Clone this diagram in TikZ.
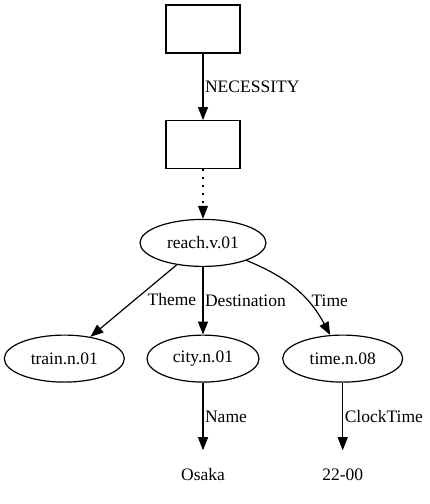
\documentclass[tikz,border=0pt]{standalone}
\usepackage{fontspec}
\setmainfont{Liberation Serif}
\newfontfamily\graphfont{Liberation Serif}
\usetikzlibrary{arrows.meta}
\usetikzlibrary{shapes.geometric,positioning}

\begin{document}
\begin{tikzpicture}[->,>={Triangle[length=13pt,width=10pt]},auto,node distance=67.5pt,
                    line width=1.2pt,font=\graphfont\fontsize{17.5}{21}\selectfont,
                    frame node/.style={rectangle,draw,minimum width=74pt,minimum height=48pt},
                    sense node/.style={ellipse,draw,inner sep=0pt,minimum height=47pt},
                    value node/.style={inner sep=0pt,minimum height=47pt}]

  \useasboundingbox (0,0) rectangle (430pt,-504pt);

  \node[frame node] (1) at (203pt,-29pt) {};
  \node[frame node] (2) [below=66.5pt of 1] {};
  \node[sense node,minimum width=126pt] (3) [below=49.5pt of 2] {reach.v.01};
  \node[sense node,minimum width=112pt] (5) [below=of 3] {city.n.01};
  \node[sense node,minimum width=120pt] (4) [left=21.5pt of 5] {train.n.01};
  \node[sense node,minimum width=120pt] (6) [right=22.5pt of 5] {time.n.08};
  \node[value node] (7) [below=of 5] {Osaka};
  \node[value node] (8) [below=of 6] {22-00};

  \path[every node/.style={inner sep=1.5pt}]
    (1) edge node {NECESSITY} (2)
    (2) edge [dash pattern=on 2pt off 6pt] node {} (3)
    (3) edge node [right=12pt,yshift=1pt] {Theme} (4)
    (3) edge node {Destination} (5)
    (3) edge [out=-22,in=118] node [pos=.6,right=6pt,yshift=-4pt] {Time} (6)
    (5) edge node {Name} (7)
    (6) edge node {ClockTime} (8);
\end{tikzpicture}
\end{document}
